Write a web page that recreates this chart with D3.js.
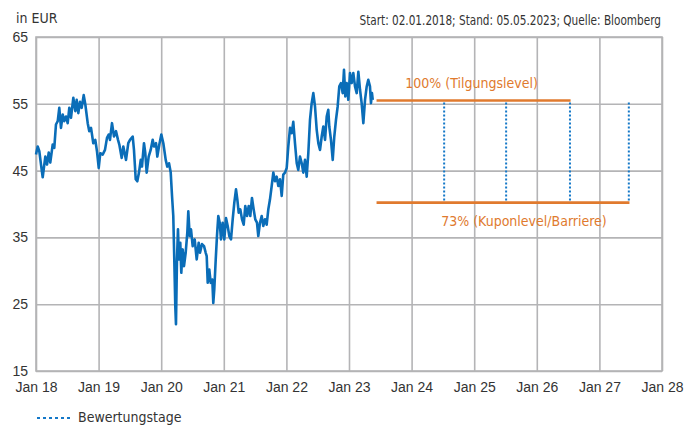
<!DOCTYPE html>
<html>
<head>
<meta charset="utf-8">
<script src="https://cdn.jsdelivr.net/npm/d3@7"></script>
<style>
  body { margin: 0; background: #fff; }
  svg { display: block; font-family: "Liberation Sans Narrow", "DejaVu Sans Condensed", "Arial Narrow", sans-serif; }
</style>
</head>
<body>
<svg id="chart" width="699" height="426"></svg>
<script>
// Kursverlauf (Zeit in Dezimaljahren, Wert in EUR)
const priceTimes = [
  2018.000, 2018.027, 2018.053, 2018.080, 2018.107, 2018.149, 2018.176, 2018.203, 2018.228, 2018.267,
  2018.292, 2018.319, 2018.347, 2018.372, 2018.399, 2018.427, 2018.452, 2018.479, 2018.506, 2018.532,
  2018.559, 2018.596, 2018.628, 2018.650, 2018.676, 2018.703, 2018.730, 2018.762, 2018.788, 2018.826,
  2018.851, 2018.879, 2018.915, 2018.947, 2018.974, 2019.002, 2019.027, 2019.065, 2019.102, 2019.134,
  2019.161, 2019.182, 2019.214, 2019.246, 2019.278, 2019.310, 2019.331, 2019.369, 2019.395, 2019.438,
  2019.474, 2019.502, 2019.545, 2019.565, 2019.593, 2019.618, 2019.645, 2019.673, 2019.693, 2019.725,
  2019.746, 2019.768, 2019.800, 2019.832, 2019.864, 2019.885, 2019.917, 2019.938, 2019.970, 2020.002,
  2020.034, 2020.072, 2020.097, 2020.125, 2020.152, 2020.173, 2020.193, 2020.209, 2020.225, 2020.236,
  2020.252, 2020.268, 2020.284, 2020.305, 2020.321, 2020.343, 2020.364, 2020.391, 2020.417, 2020.433,
  2020.455, 2020.476, 2020.503, 2020.535, 2020.567, 2020.599, 2020.620, 2020.652, 2020.684, 2020.711,
  2020.727, 2020.743, 2020.768, 2020.791, 2020.816, 2020.832, 2020.848, 2020.871, 2020.891, 2020.912,
  2020.935, 2020.955, 2020.982, 2021.008, 2021.035, 2021.062, 2021.088, 2021.115, 2021.142, 2021.168,
  2021.195, 2021.216, 2021.238, 2021.264, 2021.291, 2021.318, 2021.343, 2021.371, 2021.398, 2021.423,
  2021.450, 2021.477, 2021.503, 2021.530, 2021.551, 2021.578, 2021.605, 2021.631, 2021.658, 2021.685,
  2021.711, 2021.738, 2021.765, 2021.791, 2021.818, 2021.845, 2021.871, 2021.898, 2021.925, 2021.950,
  2021.978, 2022.005, 2022.030, 2022.058, 2022.085, 2022.110, 2022.137, 2022.165, 2022.190, 2022.217,
  2022.245, 2022.270, 2022.297, 2022.324, 2022.350, 2022.377, 2022.404, 2022.430, 2022.457, 2022.484,
  2022.510, 2022.537, 2022.564, 2022.590, 2022.617, 2022.644, 2022.669, 2022.685, 2022.712, 2022.740,
  2022.765, 2022.792, 2022.819, 2022.845, 2022.872, 2022.899, 2022.920, 2022.941, 2022.963, 2022.989,
  2023.016, 2023.043, 2023.069, 2023.096, 2023.123, 2023.149, 2023.176, 2023.202, 2023.229, 2023.256,
  2023.283, 2023.308, 2023.335, 2023.351, 2023.367, 2023.379
];
const priceValues = [
  47.4, 48.6, 47.9, 45.9, 44.0, 47.1, 45.9, 47.7, 46.2, 48.9,
  48.4, 51.9, 52.4, 54.4, 51.4, 53.4, 52.4, 53.1, 52.1, 54.4,
  52.9, 55.9, 53.9, 55.6, 53.6, 55.3, 54.4, 56.3, 54.9, 52.1,
  50.9, 51.4, 49.1, 49.6, 47.9, 45.4, 47.6, 47.4, 48.1, 49.9,
  50.4, 49.6, 52.1, 50.1, 50.9, 49.6, 48.9, 46.9, 48.6, 46.6,
  49.1, 49.6, 50.1, 48.1, 43.7, 43.4, 44.7, 46.6, 45.6, 49.1,
  47.6, 44.7, 47.1, 48.1, 49.6, 48.6, 49.1, 47.1, 48.9, 50.4,
  49.1, 46.6, 45.6, 46.1, 44.7, 41.2, 38.2, 31.7, 24.7, 22.0,
  31.7, 36.2, 31.7, 34.2, 29.7, 33.2, 30.7, 32.7, 35.7, 38.9,
  35.2, 36.2, 33.7, 34.7, 31.7, 34.2, 32.7, 34.0, 33.7, 32.7,
  32.2, 28.2, 30.2, 28.2, 28.7, 25.2, 27.2, 31.7, 35.2, 38.2,
  37.2, 34.7, 37.2, 34.7, 37.9, 36.7, 35.2, 34.7, 37.7, 40.2,
  42.2, 40.7, 38.7, 39.2, 37.7, 36.9, 39.7, 38.2, 39.7, 38.2,
  40.9, 39.2, 37.7, 37.2, 35.2, 37.2, 38.2, 36.7, 37.7, 36.9,
  39.2, 40.7, 42.7, 44.7, 43.4, 44.1, 42.7, 43.7, 41.2, 44.4,
  44.7, 45.4, 48.6, 51.4, 50.6, 52.3, 49.1, 46.1, 45.1, 47.1,
  46.1, 44.7, 46.6, 44.1, 47.6, 52.6, 55.1, 56.6, 54.6, 51.1,
  49.1, 48.1, 50.1, 51.6, 49.6, 53.1, 54.1, 51.6, 49.6, 46.6,
  50.1, 52.6, 54.6, 57.6, 58.1, 56.6, 60.1, 56.1, 58.1, 55.6,
  59.6, 58.1, 59.6, 57.6, 56.6, 59.8, 57.1, 55.1, 52.1, 55.6,
  57.6, 58.6, 57.6, 55.1, 56.6, 55.6
];

// Produktlevel
const levelStart = 2023.44;
const tilgungsLevel = 55.5;
const tilgungsEnd = 2026.54;
const barriereLevel = 40.2;
const barriereEnd = 2027.48;
const bewertungstage = [2024.52, 2025.51, 2026.53, 2027.47];

// Achsen
const yTicks = [15, 25, 35, 45, 55, 65];
const xTicks = [2018, 2019, 2020, 2021, 2022, 2023, 2024, 2025, 2026, 2027, 2028];

const colors = {
  line: "#0a6db8",
  dots: "#1478c8",
  orange: "#e07a2e",
  grid: "#b4b4b6",
  text: "#333333"
};

const margin = { top: 37, right: 37, bottom: 55, left: 36 };
const width = 699 - margin.left - margin.right;
const height = 426 - margin.top - margin.bottom;

const svg = d3.select("#chart");
const g = svg.append("g")
  .attr("transform", `translate(${margin.left},${margin.top})`);

const x = d3.scaleLinear().domain([2018, 2028]).range([0, width]);
const y = d3.scaleLinear().domain([15, 65]).range([height, 0]);

// Gitter + Y-Achse
const yAxis = g.append("g")
  .call(d3.axisLeft(y).tickValues(yTicks).tickSize(-width).tickPadding(8));
yAxis.select(".domain").remove();
yAxis.selectAll("line").attr("stroke", colors.grid).attr("stroke-width", 1.6);
yAxis.selectAll("text")
  .attr("fill", colors.text)
  .style("font-size", "14px");

// X-Achse
const xAxis = g.append("g")
  .attr("transform", `translate(0,${height})`)
  .call(d3.axisBottom(x).tickValues(xTicks).tickSize(-height).tickPadding(11)
    .tickFormat(d => "Jan " + String(d % 100).padStart(2, "0")));
xAxis.select(".domain").remove();
xAxis.selectAll("line").attr("stroke", colors.grid).attr("stroke-width", 1.6);
xAxis.selectAll("text")
  .attr("fill", colors.text)
  .style("font-size", "14px");

// Rahmen
g.append("rect")
  .attr("width", width)
  .attr("height", height)
  .attr("fill", "none")
  .attr("stroke", colors.grid)
  .attr("stroke-width", 1.6);

// Kurslinie
const line = d3.line()
  .x((d, i) => x(priceTimes[i]))
  .y(d => y(d));

g.append("path")
  .datum(priceValues)
  .attr("fill", "none")
  .attr("stroke", colors.line)
  .attr("stroke-width", 2.6)
  .attr("stroke-linejoin", "round")
  .attr("d", line);

// Bewertungstage
g.selectAll(".bewertung")
  .data(bewertungstage)
  .enter()
  .append("line")
  .attr("x1", d => x(d))
  .attr("x2", d => x(d))
  .attr("y1", y(tilgungsLevel) + 2)
  .attr("y2", y(barriereLevel) - 2)
  .attr("stroke", colors.dots)
  .attr("stroke-width", 2)
  .attr("stroke-dasharray", "2,2");

// Level-Linien
g.append("line")
  .attr("x1", x(levelStart)).attr("x2", x(tilgungsEnd))
  .attr("y1", y(tilgungsLevel)).attr("y2", y(tilgungsLevel))
  .attr("stroke", colors.orange).attr("stroke-width", 2.6);

g.append("line")
  .attr("x1", x(levelStart)).attr("x2", x(barriereEnd))
  .attr("y1", y(barriereLevel)).attr("y2", y(barriereLevel))
  .attr("stroke", colors.orange).attr("stroke-width", 2.6);

g.append("text")
  .attr("x", (x(levelStart) + x(tilgungsEnd)) / 2 - 2)
  .attr("y", y(tilgungsLevel) - 12)
  .attr("text-anchor", "middle")
  .attr("fill", colors.orange)
  .style("font-size", "14px")
  .text("100% (Tilgungslevel)");

g.append("text")
  .attr("x", (x(levelStart) + x(barriereEnd)) / 2 + 21)
  .attr("y", y(barriereLevel) + 23)
  .attr("text-anchor", "middle")
  .attr("fill", colors.orange)
  .style("font-size", "14px")
  .text("73% (Kuponlevel/Barriere)");

// Kopfzeile
svg.append("text")
  .attr("x", 16)
  .attr("y", 23)
  .attr("fill", colors.text)
  .style("font-size", "14px")
  .text("in EUR");

// schmal gesetzt wie im Original
svg.append("text")
  .attr("transform", "translate(661,25) scale(0.835,1)")
  .attr("text-anchor", "end")
  .attr("fill", colors.text)
  .style("font-size", "14px")
  .text("Start: 02.01.2018; Stand: 05.05.2023; Quelle: Bloomberg");

// Legende
const legend = svg.append("g").attr("transform", "translate(37,418)");
legend.append("line")
  .attr("x1", 0).attr("x2", 33)
  .attr("stroke", colors.dots)
  .attr("stroke-width", 2)
  .attr("stroke-dasharray", "3,3");
legend.append("text")
  .attr("x", 41)
  .attr("y", 4)
  .attr("fill", colors.text)
  .style("font-size", "14px")
  .text("Bewertungstage");
</script>
</body>
</html>
